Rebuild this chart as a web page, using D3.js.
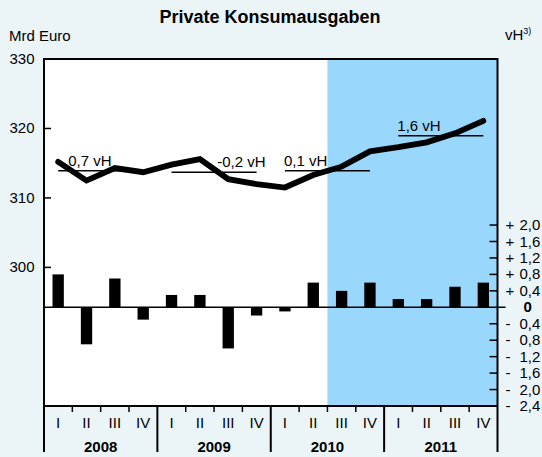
<!DOCTYPE html>
<html lang="de">
<head>
<meta charset="UTF-8">
<title>Private Konsumausgaben</title>
<script src="https://d3js.org/d3.v7.min.js"></script>
<style>
  body { margin: 0; background: #ebf5f8; }
  svg { display: block; font-family: "Liberation Sans", Arial, sans-serif; }
</style>
</head>
<body>
<svg id="chart" width="542" height="457"></svg>
<script>
// Data
const years = ["2008", "2009", "2010", "2011"];
const quarters = ["I", "II", "III", "IV"];
// Mrd Euro, quarterly level (left axis)
const level = [315.2, 312.5, 314.3, 313.7, 314.8, 315.6, 312.7, 312.0,
               311.5, 313.3, 314.5, 316.7, 317.3, 318.0, 319.3, 321.1];
// vH change to previous quarter (right axis)
const change = [0.8, -0.9, 0.7, -0.3, 0.3, 0.3, -1.0, -0.2,
                -0.1, 0.6, 0.4, 0.6, 0.2, 0.2, 0.5, 0.6];
const yearAvg = [313.9, 313.7, 313.9, 318.95];
const yearAvgLabels = ["0,7 vH", "-0,2 vH", "0,1 vH", "1,6 vH"];
const leftTicks = [300, 310, 320, 330];
const rightTicks = [2.0, 1.6, 1.2, 0.8, 0.4, 0, -0.4, -0.8, -1.2, -1.6, -2.0, -2.4];
const forecastFrom = "2010-III";

// Layout
const svg = d3.select("#chart");
const pLeft = 44, pRight = 497.5, pTop = 59, pBottom = 406, axisBottom = 452;

const keys = [];
years.forEach(y => quarters.forEach(q => keys.push(y + "-" + q)));

const x = d3.scaleBand().domain(keys).range([pLeft, pRight])
    .paddingInner(0.6).paddingOuter(0.3);
const step = x.step();
const qStart = k => x(k) - step * 0.3;
const qMid = k => x(k) + x.bandwidth() / 2;

const yL = d3.scaleLinear().domain([300, 330]).range([267.4, pTop]);
const yR = d3.scaleLinear().domain([-2.4, 0]).range([pBottom, 307.3]);

// Plot background and forecast shading
svg.append("rect").attr("x", pLeft).attr("y", pTop)
    .attr("width", pRight - pLeft).attr("height", pBottom - pTop).attr("fill", "#fff");
svg.append("rect").attr("x", qStart(forecastFrom)).attr("y", pTop)
    .attr("width", pRight - qStart(forecastFrom)).attr("height", pBottom - pTop)
    .attr("fill", "#9ad7fc");

// Title and units
svg.append("text").attr("x", 270).attr("y", 23).attr("text-anchor", "middle")
    .attr("font-size", 18).attr("font-weight", "bold").text("Private Konsumausgaben");
svg.append("text").attr("x", 9).attr("y", 41).attr("font-size", 15).text("Mrd Euro");
const vh = svg.append("text").attr("x", 505).attr("y", 40).attr("font-size", 15);
vh.append("tspan").text("vH");
vh.append("tspan").attr("font-size", 9).attr("dy", -6).text("3)");

// Bars
svg.selectAll(".bar").data(change).enter().append("rect")
    .attr("class", "bar")
    .attr("x", (d, i) => x(keys[i]))
    .attr("width", x.bandwidth())
    .attr("y", d => yR(Math.max(0, d)))
    .attr("height", d => Math.abs(yR(d) - yR(0)))
    .attr("fill", "#000");

// Zero line
svg.append("line").attr("x1", pLeft).attr("x2", pRight + 8)
    .attr("y1", yR(0)).attr("y2", yR(0))
    .attr("stroke", "#000").attr("stroke-width", 1.6);

// Yearly average lines with labels
const labelShift = [10, 2 * step - 11, -1, -1];
years.forEach((yr, i) => {
    const a = keys[i * 4], b = keys[i * 4 + 3];
    svg.append("line").attr("x1", qMid(a)).attr("x2", qMid(b))
        .attr("y1", yL(yearAvg[i])).attr("y2", yL(yearAvg[i]))
        .attr("stroke", "#000").attr("stroke-width", 1.5);
    svg.append("text").attr("x", qMid(a) + labelShift[i]).attr("y", yL(yearAvg[i]) - 5)
        .attr("font-size", 15).text(yearAvgLabels[i]);
});

// Level line
const line = d3.line().x((d, i) => qMid(keys[i])).y(d => yL(d));
svg.append("path").datum(level).attr("d", line)
    .attr("fill", "none").attr("stroke", "#000").attr("stroke-width", 5.8)
    .attr("stroke-linecap", "round");

// Frame
svg.append("line").attr("x1", pLeft).attr("x2", pRight).attr("y1", pTop).attr("y2", pTop)
    .attr("stroke", "#000").attr("stroke-width", 2);
svg.append("line").attr("x1", pLeft).attr("x2", pRight).attr("y1", pBottom).attr("y2", pBottom)
    .attr("stroke", "#000").attr("stroke-width", 2);
[pLeft, pRight].forEach(px => {
    svg.append("line").attr("x1", px).attr("x2", px).attr("y1", pTop - 1).attr("y2", axisBottom)
        .attr("stroke", "#000").attr("stroke-width", 2);
});

// Left axis ticks
leftTicks.forEach(v => {
    svg.append("line").attr("x1", pLeft).attr("x2", pLeft + 7)
        .attr("y1", yL(v)).attr("y2", yL(v)).attr("stroke", "#000").attr("stroke-width", 1.5);
    svg.append("text").attr("x", 34.5).attr("y", yL(v) + 5).attr("text-anchor", "end")
        .attr("font-size", 15).text(v);
});

// Right axis ticks
const fmt = v => Math.abs(v).toFixed(1).replace(".", ",");
rightTicks.forEach(v => {
    if (v !== 0 && v !== -2.4) {
        svg.append("line").attr("x1", pRight - 8).attr("x2", pRight)
            .attr("y1", yR(v)).attr("y2", yR(v)).attr("stroke", "#000").attr("stroke-width", 1.5);
    }
    if (v === 0) {
        svg.append("text").attr("x", 523.5).attr("y", yR(v) + 5)
            .attr("font-size", 15).attr("font-weight", "bold").text("0");
    } else {
        svg.append("text").attr("x", 505.5).attr("y", yR(v) + 5)
            .attr("font-size", 15).text(v > 0 ? "+" : "-");
        svg.append("text").attr("x", 519.5).attr("y", yR(v) + 5)
            .attr("font-size", 15).text(fmt(v));
    }
});

// Category axis
keys.forEach((k, i) => {
    if (i > 0 && i % 4 !== 0) {
        svg.append("line").attr("x1", qStart(k)).attr("x2", qStart(k))
            .attr("y1", pBottom).attr("y2", pBottom + 6)
            .attr("stroke", "#000").attr("stroke-width", 1.5);
    }
    svg.append("text").attr("x", qMid(k)).attr("y", 428).attr("text-anchor", "middle")
        .attr("font-size", 15).text(quarters[i % 4]);
});
years.forEach((yr, i) => {
    const s = qStart(keys[i * 4]);
    if (i > 0) {
        svg.append("line").attr("x1", s).attr("x2", s).attr("y1", pBottom).attr("y2", axisBottom)
            .attr("stroke", "#000").attr("stroke-width", 2);
    }
    svg.append("text").attr("x", s + step * 2).attr("y", 452).attr("text-anchor", "middle")
        .attr("font-size", 15).attr("font-weight", "bold").text(yr);
});
</script>
</body>
</html>
